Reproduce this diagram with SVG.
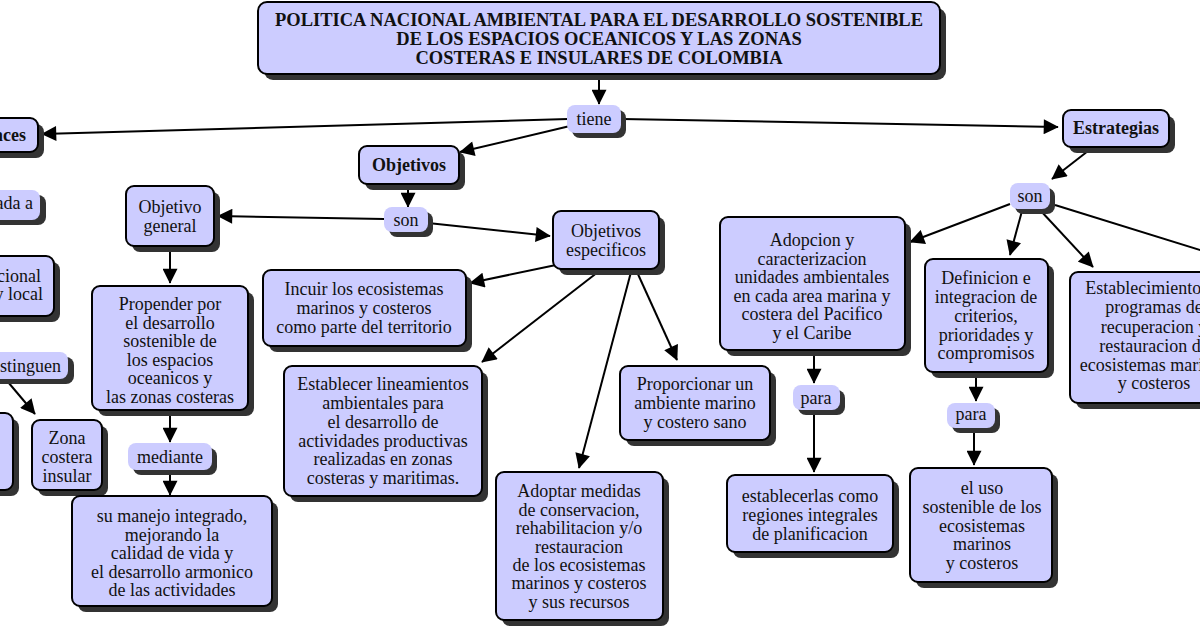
<svg xmlns="http://www.w3.org/2000/svg" width="1200" height="630" viewBox="0 0 1200 630">
<defs>
<style>
.sh{fill:#333333}
.c{fill:#CCCCFF;stroke:#000;stroke-width:2}
.l{fill:#CCCCFF}
text{font-family:"Liberation Serif","Times New Roman",serif;font-size:18px;fill:#111;text-anchor:middle}
.b{font-weight:bold}
.t{font-weight:bold;font-size:18.5px}
.e{text-anchor:end}
#conn path{stroke:#000;stroke-width:2;fill:none;marker-end:url(#ah)}
</style>
<marker id="ah" viewBox="0 0 10 10" refX="9.5" refY="5" markerWidth="16" markerHeight="15" orient="auto" markerUnits="userSpaceOnUse"><path d="M0,0 L10,5 L0,10 z" fill="#000"/></marker>
</defs>
<rect width="1200" height="630" fill="#fff"/>
<g id="conn">
<path d="M599,76 L599,104"/>
<path d="M568,119 L42,134"/>
<path d="M570,126 L460,152"/>
<path d="M622,119 L1058,127"/>
<path d="M408,186 L408,207"/>
<path d="M384,219 L218,216"/>
<path d="M428,223 L550,236"/>
<path d="M170,248 L170,283"/>
<path d="M170,412 L170,442"/>
<path d="M170,472 L170,495"/>
<path d="M556,265 L470,283"/>
<path d="M598,272 L482,362"/>
<path d="M631,272 L579,468"/>
<path d="M637,272 L677,360"/>
<path d="M1088,151 L1052,179"/>
<path d="M1010,204 L910,242"/>
<path d="M1022,211 L1010,255"/>
<path d="M1040,210 L1093,267"/>
<path d="M1055,205 L1245,264"/>
<path d="M814,352 L814,383"/>
<path d="M814,410 L814,472"/>
<path d="M976,376 L976,401"/>
<path d="M974,428 L974,465"/>
<path d="M8,382 L35,414"/>
</g>

<g id="title">
<rect class="sh" x="264" y="8" width="682" height="72" rx="9"/>
<rect class="c" x="258" y="2" width="682" height="72" rx="9"/>
<text class="t" x="599" y="26">POLITICA NACIONAL AMBIENTAL PARA EL DESARROLLO SOSTENIBLE</text>
<text class="t" x="599" y="45">DE LOS ESPACIOS OCEANICOS Y LAS ZONAS</text>
<text class="t" x="599" y="64">COSTERAS E INSULARES DE COLOMBIA</text>
</g>

<g id="tiene">
<rect class="sh" x="572" y="110" width="54" height="28" rx="8"/>
<rect class="l" x="567" y="105" width="54" height="28" rx="8"/>
<text x="594" y="125">tiene</text>
</g>

<g id="alcances">
<rect class="sh" x="-20" y="124" width="64" height="34" rx="8"/>
<rect class="c" x="-26" y="118" width="64" height="34" rx="8"/>
<text class="b e" x="26" y="141">Alcances</text>
</g>

<g id="dada">
<rect class="sh" x="-20" y="195" width="66" height="30" rx="8"/>
<rect class="l" x="-26" y="190" width="66" height="30" rx="8"/>
<text class="e" x="33" y="209">ada a</text>
</g>

<g id="nacional">
<rect class="sh" x="-20" y="262" width="80" height="60" rx="8"/>
<rect class="c" x="-26" y="256" width="80" height="60" rx="8"/>
<text class="e" x="41" y="282">cional</text>
<text class="e" x="43" y="300">y local</text>
</g>

<g id="distinguen">
<rect class="sh" x="-20" y="357" width="94" height="27" rx="8"/>
<rect class="l" x="-26" y="352" width="94" height="27" rx="8"/>
<text class="e" x="61" y="372">stinguen</text>
</g>

<g id="zonaizq">
<rect class="sh" x="-20" y="419" width="39" height="77" rx="8"/>
<rect class="c" x="-26" y="413" width="39" height="77" rx="8"/>
</g>

<g id="zona">
<rect class="sh" x="38" y="426" width="70" height="70" rx="8"/>
<rect class="c" x="32" y="420" width="70" height="70" rx="8"/>
<text x="67" y="444">Zona</text>
<text x="67" y="463">costera</text>
<text x="67" y="482">insular</text>
</g>

<g id="objetivos">
<rect class="sh" x="365" y="152" width="100" height="38" rx="8"/>
<rect class="c" x="359" y="146" width="100" height="38" rx="8"/>
<text class="b" x="409" y="171">Objetivos</text>
</g>

<g id="son1">
<rect class="sh" x="389" y="212" width="44" height="25" rx="8"/>
<rect class="l" x="384" y="207" width="44" height="25" rx="8"/>
<text x="406" y="226">son</text>
</g>

<g id="objgeneral">
<rect class="sh" x="132" y="192" width="88" height="60" rx="8"/>
<rect class="c" x="126" y="186" width="88" height="60" rx="8"/>
<text x="170" y="213">Objetivo</text>
<text x="170" y="232">general</text>
</g>

<g id="propender">
<rect class="sh" x="98" y="292" width="156" height="124" rx="8"/>
<rect class="c" x="92" y="286" width="156" height="124" rx="8"/>
<text x="170" y="310">Propender por</text>
<text x="170" y="329">el desarrollo</text>
<text x="170" y="347">sostenible de</text>
<text x="170" y="366">los espacios</text>
<text x="170" y="384">oceanicos y</text>
<text x="170" y="403">las zonas costeras</text>
</g>

<g id="mediante">
<rect class="sh" x="133" y="448" width="84" height="27" rx="8"/>
<rect class="l" x="128" y="443" width="84" height="27" rx="8"/>
<text x="170" y="463">mediante</text>
</g>

<g id="manejo">
<rect class="sh" x="78" y="502" width="200" height="110" rx="8"/>
<rect class="c" x="72" y="496" width="200" height="110" rx="8"/>
<text x="172" y="522">su manejo integrado,</text>
<text x="172" y="541">mejorando la</text>
<text x="172" y="559">calidad de vida y</text>
<text x="172" y="578">el desarrollo armonico</text>
<text x="172" y="596">de las actividades</text>
</g>

<g id="objesp">
<rect class="sh" x="559" y="217" width="106" height="58" rx="8"/>
<rect class="c" x="553" y="211" width="106" height="58" rx="8"/>
<text x="606" y="237">Objetivos</text>
<text x="606" y="256">especificos</text>
</g>

<g id="incuir">
<rect class="sh" x="269" y="276" width="203" height="76" rx="8"/>
<rect class="c" x="263" y="270" width="203" height="76" rx="8"/>
<text x="364" y="295">Incuir los ecosistemas</text>
<text x="364" y="314">marinos y costeros</text>
<text x="364" y="333">como parte del territorio</text>
</g>

<g id="establecer">
<rect class="sh" x="290" y="372" width="198" height="130" rx="8"/>
<rect class="c" x="284" y="366" width="198" height="130" rx="8"/>
<text x="383" y="390">Establecer lineamientos</text>
<text x="383" y="409">ambientales para</text>
<text x="383" y="428">el desarrollo de</text>
<text x="383" y="447">actividades productivas</text>
<text x="383" y="465">realizadas en zonas</text>
<text x="383" y="484">costeras y maritimas.</text>
</g>

<g id="proporcionar">
<rect class="sh" x="626" y="372" width="150" height="74" rx="8"/>
<rect class="c" x="620" y="366" width="150" height="74" rx="8"/>
<text x="695" y="390">Proporcionar un</text>
<text x="695" y="409">ambiente marino</text>
<text x="695" y="428">y costero sano</text>
</g>

<g id="adoptar">
<rect class="sh" x="502" y="478" width="167" height="148" rx="8"/>
<rect class="c" x="496" y="472" width="167" height="148" rx="8"/>
<text x="579" y="497">Adoptar medidas</text>
<text x="579" y="516">de conservacion,</text>
<text x="579" y="534">rehabilitacion y/o</text>
<text x="579" y="553">restauracion</text>
<text x="579" y="571">de los ecosistemas</text>
<text x="579" y="589">marinos y costeros</text>
<text x="579" y="608">y sus recursos</text>
</g>

<g id="estrategias">
<rect class="sh" x="1069" y="116" width="106" height="37" rx="8"/>
<rect class="c" x="1063" y="110" width="106" height="37" rx="8"/>
<text class="b" x="1116" y="134">Estrategias</text>
</g>

<g id="son2">
<rect class="sh" x="1015" y="188" width="40" height="26" rx="8"/>
<rect class="l" x="1010" y="183" width="40" height="26" rx="8"/>
<text x="1030" y="202">son</text>
</g>

<g id="adopcion">
<rect class="sh" x="726" y="223" width="185" height="133" rx="8"/>
<rect class="c" x="720" y="217" width="185" height="133" rx="8"/>
<text x="812" y="246">Adopcion y</text>
<text x="812" y="265">caracterizacion</text>
<text x="812" y="283">unidades ambientales</text>
<text x="812" y="302">en cada area marina y</text>
<text x="812" y="320">costera del Pacifico</text>
<text x="812" y="339">y el Caribe</text>
</g>

<g id="para1">
<rect class="sh" x="798" y="390" width="47" height="25" rx="8"/>
<rect class="l" x="793" y="385" width="47" height="25" rx="8"/>
<text x="816" y="404">para</text>
</g>

<g id="establecerlas">
<rect class="sh" x="733" y="481" width="166" height="77" rx="8"/>
<rect class="c" x="727" y="475" width="166" height="77" rx="8"/>
<text x="810" y="502">establecerlas como</text>
<text x="810" y="521">regiones integrales</text>
<text x="810" y="540">de planificacion</text>
</g>

<g id="definicion">
<rect class="sh" x="931" y="265" width="123" height="113" rx="8"/>
<rect class="c" x="925" y="259" width="123" height="113" rx="8"/>
<text x="986" y="284">Definicion e</text>
<text x="986" y="303">integracion de</text>
<text x="986" y="322">criterios,</text>
<text x="986" y="341">prioridades y</text>
<text x="986" y="359">compromisos</text>
</g>

<g id="para2">
<rect class="sh" x="952" y="408" width="48" height="25" rx="8"/>
<rect class="l" x="947" y="403" width="48" height="25" rx="8"/>
<text x="971" y="420">para</text>
</g>

<g id="uso">
<rect class="sh" x="916" y="474" width="142" height="114" rx="8"/>
<rect class="c" x="910" y="468" width="142" height="114" rx="8"/>
<text x="982" y="494">el uso</text>
<text x="982" y="513">sostenible de los</text>
<text x="982" y="532">ecosistemas</text>
<text x="982" y="550">marinos</text>
<text x="982" y="569">y costeros</text>
</g>

<g id="establecimiento">
<rect class="sh" x="1076" y="278" width="172" height="131" rx="8"/>
<rect class="c" x="1070" y="272" width="172" height="131" rx="8"/>
<text x="1154" y="294">Establecimiento de</text>
<text x="1154" y="313">programas de</text>
<text x="1154" y="333">recuperacion y</text>
<text x="1154" y="352">restauracion de</text>
<text x="1154" y="371">ecosistemas marinos</text>
<text x="1154" y="389">y costeros</text>
</g>
</svg>
